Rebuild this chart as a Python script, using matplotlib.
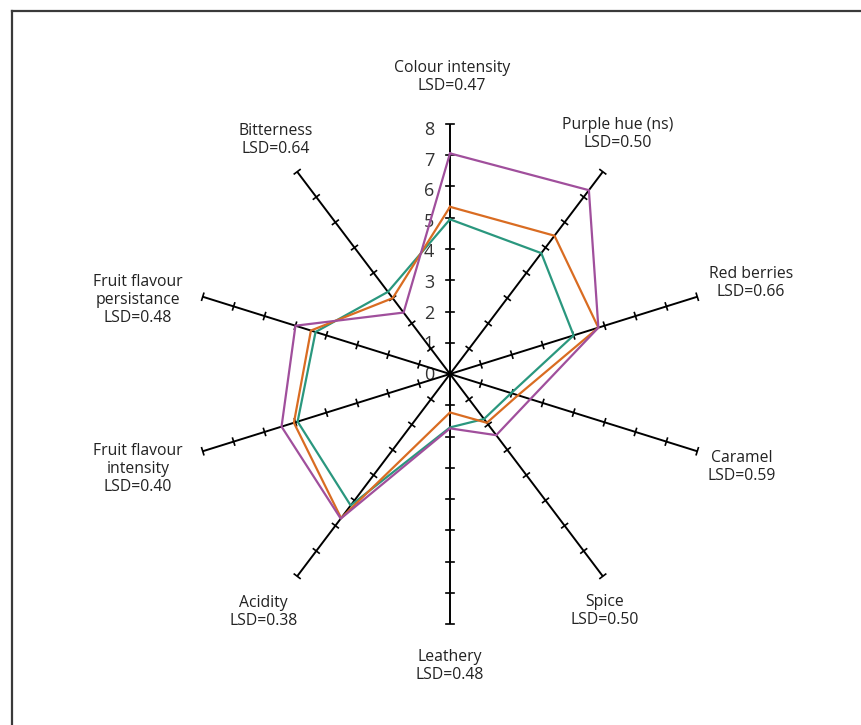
import numpy as np
import matplotlib.pyplot as plt
from matplotlib.lines import Line2D

plt.rcParams['font.family'] = ['Open Sans', 'DejaVu Sans']

# attributes, clockwise from the top
attributes = ["Colour intensity\nLSD=0.47", "Purple hue (ns)\nLSD=0.50",
              "Red berries\nLSD=0.66", "Caramel\nLSD=0.59", "Spice\nLSD=0.50",
              "Leathery\nLSD=0.48", "Acidity\nLSD=0.38",
              "Fruit flavour\nintensity\nLSD=0.40",
              "Fruit flavour\npersistance\nLSD=0.48", "Bitterness\nLSD=0.64"]

# mean scores per wine
wine_purple = [7.06, 7.27, 4.8, 2.6, 2.42, 1.74, 5.72, 5.45, 5.0, 2.43]
wine_orange = [5.35, 5.47, 4.8, 2.2, 1.93, 1.23, 5.7, 5.05, 4.5, 3.0]
wine_teal = [4.95, 4.78, 4.0, 1.98, 1.78, 1.71, 5.2, 4.93, 4.35, 3.25]

scale_ticks = [0, 1, 2, 3, 4, 5, 6, 7, 8]
scale_max = 8

# label positions (data units, x/y) placed around the web
label_pos = [(0.05, 9.5), (5.17, 7.68), (9.26, 2.9), (8.98, -2.98), (4.77, -7.58),
             (0.0, -9.34), (-5.75, -7.62), (-9.6, -3.04), (-9.6, 2.37), (-5.35, 7.49)]

# pixel scale of the original: x is a bit wider than y
px_x, px_y = 32.5, 31.25

W, H = 861, 725
fig = plt.figure(figsize=(W / 100, H / 100), dpi=100)
ax = fig.add_axes([0, 0, 1, 1])
ax.set_xlim(-450 / px_x, (W - 450) / px_x)
ax.set_ylim(-(H - 374) / px_y, 374 / px_y)
ax.axis('off')

n = len(attributes)
angles = np.deg2rad(90 - 36 * np.arange(n))

# spokes with tick marks
for th in angles:
    ax.plot([0, scale_max * np.cos(th)], [0, scale_max * np.sin(th)], color='black', lw=1.4,
            solid_capstyle='butt', zorder=2)
    # perpendicular direction worked out in pixel space
    ux, uy = np.cos(th) * px_x, np.sin(th) * px_y
    norm = np.hypot(ux, uy)
    perp_x, perp_y = -uy / norm * 3.6 / px_x, ux / norm * 3.6 / px_y
    for k in scale_ticks[1:]:
        cx, cy = k * np.cos(th), k * np.sin(th)
        ax.plot([cx - perp_x, cx + perp_x], [cy - perp_y, cy + perp_y], color='black', lw=1.2,
                zorder=2)

# numbers along the top spoke
for k in scale_ticks:
    ax.text(-21 / px_x, 0.98 * k - 0.03, str(k), ha='center', va='center', fontsize=13,
            color='#333333', zorder=1)


def draw(values, color):
    v = np.array(values + values[:1])
    a = np.concatenate([angles, angles[:1]])
    ax.plot(v * np.cos(a), v * np.sin(a), color=color, lw=1.6, zorder=3)


draw(wine_teal, '#2a977e')
draw(wine_orange, '#d96c22')
draw(wine_purple, '#a04f9c')

for name, (x, y) in zip(attributes, label_pos):
    ax.text(x, y, name, ha='center', va='center', fontsize=11.3, color='#222222',
            linespacing=1.15)

# frame (only top and left edge show in the crop)
fig.add_artist(Line2D([11.8 / W, 1], [1 - 11 / H, 1 - 11 / H], color='#3a3a3a', lw=1.6))
fig.add_artist(Line2D([11.8 / W, 11.8 / W], [0, 1 - 11 / H], color='#3a3a3a', lw=1.6))

fig.savefig('out.png', dpi=100)
